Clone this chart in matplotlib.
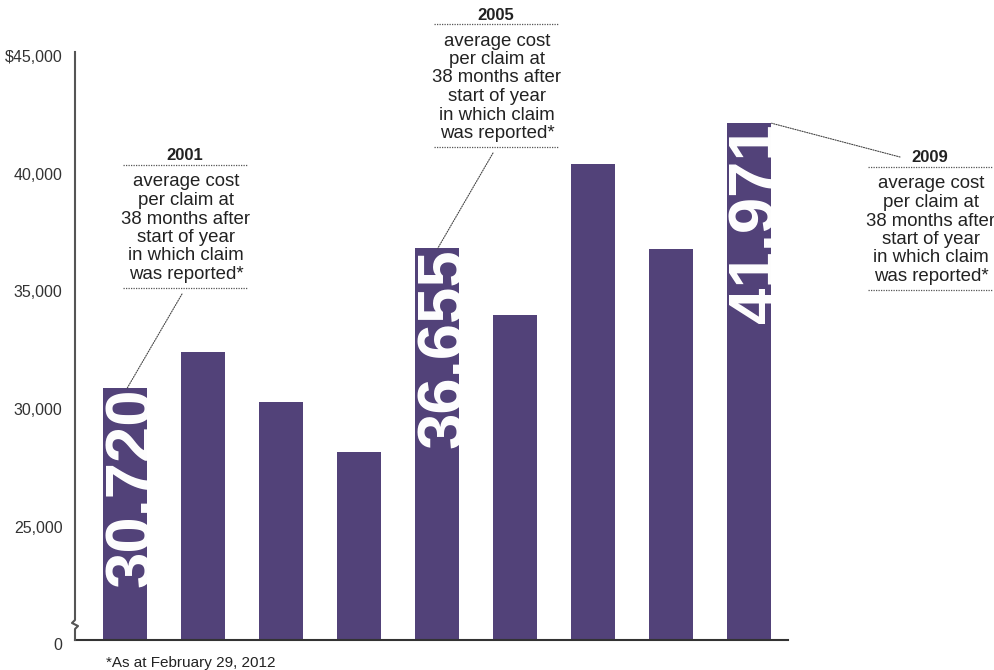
import matplotlib
matplotlib.use("Agg")
import matplotlib.pyplot as plt
import matplotlib.transforms as mtransforms
from matplotlib.lines import Line2D
from matplotlib.patches import Rectangle

# average cost per claim, by year the claim was reported
years = [2001, 2002, 2003, 2004, 2005, 2006, 2007, 2008, 2009]
avg_cost = [30720, 32250, 30120, 28000, 36655, 33820, 40240, 36620, 41971]

# bars that carry a big white value and a note
labelled_years = [2001, 2005, 2009]
note_lines = ["average cost", "per claim at", "38 months after",
              "start of year", "in which claim", "was reported*"]

tick_vals = [20000, 25000, 30000, 35000, 40000, 45000]
tick_text = ["0", "25,000", "30,000", "35,000", "40,000", "$45,000"]

BAR = "#524279"
INK = "#222222"
W, H = 995, 670
plt.rcParams["font.family"] = ["Liberation Sans", "DejaVu Sans"]

fig = plt.figure(figsize=(W / 100, H / 100), dpi=100)

def px(x, y):
    # pixel position (from top-left) -> figure fraction
    return x / W, 1 - y / H

ax = fig.add_axes([75 / W, 30 / H, 713 / W, 588 / H])
ax.set_xlim(-0.641, 8.5)
ax.set_ylim(20000, 45000)

xs = list(range(len(years)))
bar_w = 0.565
bars = ax.bar(xs, avg_cost, width=bar_w, color=BAR, zorder=2)

for sp in ["top", "right", "left"]:
    ax.spines[sp].set_visible(False)
ax.spines["bottom"].set_color("#333333")
ax.spines["bottom"].set_linewidth(1.5)

ax.set_xticks([])
ax.set_yticks(tick_vals)
ax.set_yticklabels(tick_text, fontsize=11.5, color="#333333")
ax.tick_params(axis="y", length=0, pad=9)
# labels sit a touch below their value
shift = mtransforms.ScaledTranslation(0, -3 / 72, fig.dpi_scale_trans)
for lab in ax.get_yticklabels():
    lab.set_transform(lab.get_transform() + shift)

# left axis line with a break mark near the bottom
dx, dy = 1 / 713, 1 / 588
brk = [(0, 1), (0, 20 * dy), (-3 * dx, 17 * dy), (3 * dx, 14 * dy),
       (0, 11 * dy), (0, 0)]
ax.add_line(Line2D([p[0] for p in brk], [p[1] for p in brk],
                   transform=ax.transAxes, color="#555555", lw=1.5,
                   clip_on=False, zorder=3))

# big white value written up the bar, clipped to the bar
for i, (yr, val) in enumerate(zip(years, avg_cost)):
    if yr not in labelled_years:
        continue
    t = ax.text(i + bar_w / 2 + 0.04, val, f"{val:,}", rotation=90,
                rotation_mode="anchor", ha="right", va="baseline",
                fontsize=47, fontweight="bold", color="white", zorder=4)
    b = bars[i]
    clip = Rectangle((b.get_x(), b.get_y()), b.get_width(), b.get_height(),
                     transform=ax.transData)
    t.set_clip_path(clip)

# notes: (center x, year-label y, leader start, leader end offset in bar units)
notes = {
    2001: (185, 156, (182, 294), 0.03),
    2005: (496, 15, (493, 153), 0.01),
    2009: (930, 158, (900, 157), 0.29),
}

def hline(x0, x1, y):
    (a, b), (c, _) = px(x0, y), px(x1, y)
    fig.add_artist(Line2D([a, c], [b, b], transform=fig.transFigure,
                          color="#555555", lw=0.9, ls=(0, (1, 1))))

for yr, (cx, ty, start, off) in notes.items():
    i = years.index(yr)
    fig.text(*px(cx, ty), str(yr), ha="center", va="center",
             fontsize=12, fontweight="bold", color=INK)
    hline(cx - 62, cx + 62, ty + 9)
    for k, line in enumerate(note_lines):
        fig.text(*px(cx + 1, ty + 26 + 18.5 * k), line, ha="center",
                 va="center", fontsize=13.4, color=INK)
    hline(cx - 62, cx + 62, ty + 132)
    ax.annotate("", xy=(i + off, avg_cost[i]), xycoords="data",
                xytext=px(*start), textcoords="figure fraction",
                arrowprops=dict(arrowstyle="-", color="#444444", lw=0.8,
                                ls=(0, (1, 1.2)), shrinkA=0, shrinkB=0))

fig.text(*px(106, 663), "*As at February 29, 2012", ha="left", va="center",
         fontsize=11, color=INK)

fig.savefig("out.png", dpi=100)
